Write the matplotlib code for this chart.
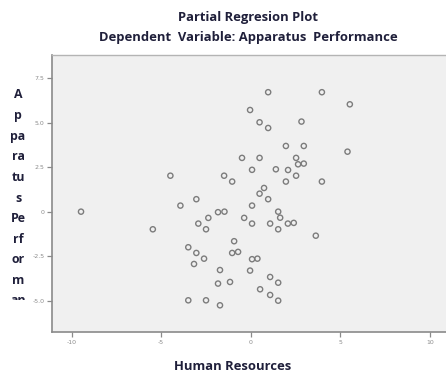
import matplotlib
matplotlib.use("Agg")
import matplotlib.pyplot as plt
from matplotlib.patches import Rectangle

# Partial regression residuals
human_resources = [
    -0.04, 0.49, -0.49, 0.49, 0.07, -4.49, -1.49, -1.04, 0.97, 3.97,
    5.53, 0.97, 2.83, 1.96, 2.96, 5.40, 2.53, 1.40, 2.08, 2.64,
    2.96, 2.53, 1.96, 3.97, 0.74, -9.48, -5.47, -3.93, -3.04, 0.49,
    0.07, -1.83, -1.47, -2.37, -2.93, -2.50, -0.37, 0.07, -0.93, -3.49,
    -3.04, -2.61, -3.17, -1.04, -0.71, 0.07, 0.37, -1.72, -0.04, -1.83,
    -1.16, 0.52, -3.49, -2.50, -1.72, 0.97, 1.53, 1.64, 1.08, 2.07,
    2.40, 1.53, 3.63, 1.08, 1.53, 1.08, 1.53,
]
apparatus_perf = [
    5.71, 5.02, 3.02, 3.02, 2.35, 2.02, 2.02, 1.69, 6.71, 6.71,
    6.03, 4.70, 5.06, 3.69, 3.69, 3.37, 3.02, 2.38, 2.34, 2.66,
    2.70, 2.02, 1.69, 1.69, 1.33, 0.00, -0.99, 0.34, 0.70, 1.01,
    0.34, -0.03, 0.00, -0.35, -0.67, -0.99, -0.35, -0.67, -1.66, -2.00,
    -2.32, -2.64, -2.94, -2.32, -2.26, -2.67, -2.64, -3.28, -3.31, -4.04,
    -3.95, -4.36, -4.98, -4.98, -5.26, 0.70, 0.00, -0.34, -0.67, -0.67,
    -0.63, -0.99, -1.35, -3.67, -3.99, -4.68, -5.00,
]
x_ticks = [-10, -5, 0, 5, 10]
x_ticklabels = ["-10", "-5", "0", "5", "10"]
y_ticks = [7.5, 5.0, 2.5, 0.0, -2.5, -5.0]
y_ticklabels = ["7.5", "5.0", "2.5", "0", "-2.5", "-5.0"]
ylabel_lines = ["A", "p", "pa", "ra", "tu", "s", "Pe", "rf", "or", "m", "an"]

TXT = "#1f1f3a"
FONT = "Open Sans"
FS = 9.4

W, H = 446, 374
fig = plt.figure(figsize=(W / 100, H / 100), dpi=100)
fig.patch.set_facecolor("white")

ax = fig.add_axes([52 / W, (H - 332) / H, (W - 52) / W, (332 - 55) / H])
ax.set_facecolor("#f0f0f0")
ax.scatter(human_resources, apparatus_perf, s=14, facecolors="none",
           edgecolors="#7c7c7c", linewidths=1.0, zorder=3)
ax.set_xlim(-11.1, 10.9)
ax.set_ylim(-6.76, 8.8)
ax.set_xticks(x_ticks)
ax.set_xticklabels(x_ticklabels)
ax.set_yticks(y_ticks)
ax.set_yticklabels(y_ticklabels)
ax.tick_params(length=3.5, width=0.9, color="#8a8a8a", labelsize=4.5,
               labelcolor="#8c8c8c", pad=2)
for s in ("left", "bottom"):
    ax.spines[s].set_color("#8a8a8a")
    ax.spines[s].set_linewidth(1.2)
ax.spines["top"].set_color("#b4b4b4")
ax.spines["top"].set_linewidth(1.0)
ax.spines["right"].set_visible(False)

fig.text(248 / W, 1 - 18 / H, "Partial Regresion Plot", ha="center", va="center",
         fontsize=FS, fontweight="bold", color=TXT, family=FONT)
fig.text(248 / W, 1 - 38 / H, "Dependent  Variable: Apparatus  Performance",
         ha="center", va="center", fontsize=FS, fontweight="bold", color=TXT,
         family=FONT)
fig.text(233 / W, 1 - 366 / H, "Human Resources", ha="center", va="center",
         fontsize=FS, fontweight="bold", color=TXT, family=FONT)

# wrapped y label, cut off at the bottom like the original
for i, t in enumerate(ylabel_lines):
    fig.text(18 / W, 1 - (95 + i * 20.6) / H, t, ha="center", va="center",
             fontsize=FS * 0.95, fontweight="bold", color=TXT, family=FONT)
fig.patches.append(Rectangle((0, 0), 31 / W, (H - 299.5) / H, transform=fig.transFigure,
                             facecolor="white", edgecolor="none", zorder=10))

fig.savefig("out.png", dpi=100)
